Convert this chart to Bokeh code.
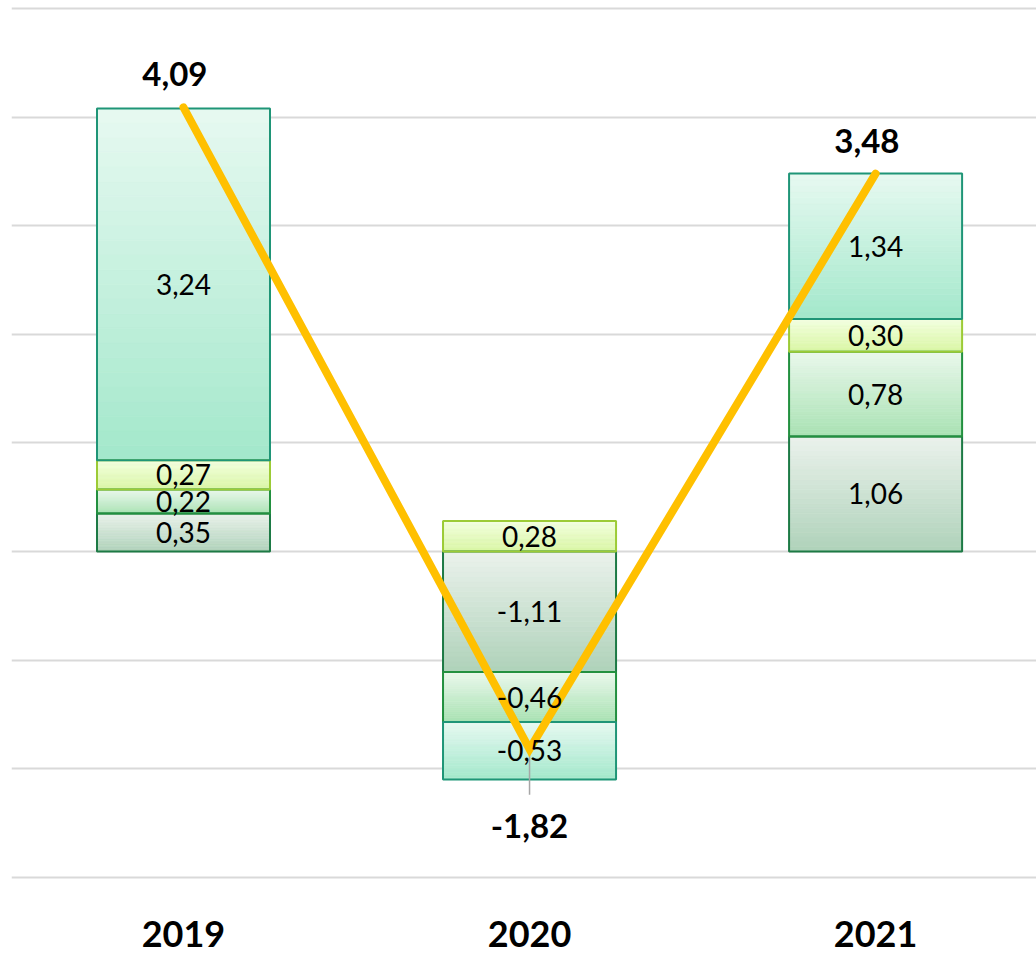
from bokeh.plotting import figure
from bokeh.models import Range1d, FixedTicker, SingleIntervalTicker, ColumnDataSource
from bokeh.core.properties import value
from bokeh.embed import file_html
from bokeh.resources import INLINE

years = ["2019", "2020", "2021"]
s1 = [0.35, -1.11, 1.06]
s2 = [0.22, -0.46, 0.78]
s3 = [0.27, 0.28, 0.30]
s4 = [3.24, -0.53, 1.34]
totals = [4.09, -1.82, 3.48]
total_labels = ["4,09", "-1,82", "3,48"]

series = [s1, s2, s3, s4]
# (top colour, bottom colour, border colour)
styles = [
    ("#ebf2ec", "#afd2ba", "#1d7a45"),
    ("#eaf8ec", "#a9e2b3", "#22903f"),
    ("#f3ffe0", "#d9f6a4", "#9ccb36"),
    ("#e7f9f1", "#a3e8cb", "#1f9577"),
]

FONT = "Lato"
BAR_W = 0.5

p = figure(width=1036, height=953, output_backend="svg", toolbar_location=None,
           x_range=Range1d(-0.497, 2.465), y_range=Range1d(-3.306, 5.074),
           min_border_left=11, min_border_right=0, min_border_top=0, min_border_bottom=43)
p.outline_line_color = None
p.background_fill_color = "white"
p.border_fill_color = "white"
p.yaxis.visible = False
p.xgrid.visible = False
p.ygrid.ticker = SingleIntervalTicker(interval=1)
p.ygrid.grid_line_color = "#d9d9d9"
p.ygrid.grid_line_width = 2

xs = list(range(len(years)))
p.xaxis.ticker = FixedTicker(ticks=xs)
p.xaxis.major_label_overrides = {i: y for i, y in enumerate(years)}
p.xaxis.axis_line_color = None
p.xaxis.major_tick_line_color = None
p.xaxis.minor_tick_line_color = None
p.xaxis.major_label_standoff = 4
p.xaxis.major_label_text_font = FONT
p.xaxis.major_label_text_font_style = "bold"
p.xaxis.major_label_text_font_size = "36px"
p.xaxis.major_label_text_color = "black"


def hex2rgb(h):
    h = h.lstrip("#")
    return tuple(int(h[i:i + 2], 16) for i in (0, 2, 4))


def mix(c1, c2, t):
    a, b = hex2rgb(c1), hex2rgb(c2)
    return "#%02x%02x%02x" % tuple(round(a[i] + (b[i] - a[i]) * t) for i in range(3))


pos_base = [0.0] * len(years)
neg_base = [0.0] * len(years)
seg = {"left": [], "right": [], "bottom": [], "top": [], "line": []}
grad = {"left": [], "right": [], "bottom": [], "top": [], "color": []}
lab = {"x": [], "y": [], "text": []}
N = 24
for vals, (ctop, cbot, cline) in zip(series, styles):
    for i, v in enumerate(vals):
        if v >= 0:
            b, t = pos_base[i], pos_base[i] + v
            pos_base[i] = t
        else:
            t, b = neg_base[i], neg_base[i] + v
            neg_base[i] = b
        for k in range(N):
            grad["left"].append(xs[i] - BAR_W / 2)
            grad["right"].append(xs[i] + BAR_W / 2)
            grad["top"].append(t - (t - b) * k / N)
            grad["bottom"].append(t - (t - b) * (k + 1) / N)
            grad["color"].append(mix(ctop, cbot, (k + 0.5) / N))
        seg["left"].append(xs[i] - BAR_W / 2)
        seg["right"].append(xs[i] + BAR_W / 2)
        seg["bottom"].append(b)
        seg["top"].append(t)
        seg["line"].append(cline)
        lab["x"].append(xs[i])
        lab["y"].append((b + t) / 2)
        lab["text"].append(("%.2f" % v).replace(".", ","))

p.quad(left="left", right="right", bottom="bottom", top="top", source=ColumnDataSource(grad),
       fill_color="color", line_color="color", line_width=0.6)
p.quad(left="left", right="right", bottom="bottom", top="top", source=ColumnDataSource(seg),
       fill_alpha=0, line_color="line", line_width=2)

# leader line for the negative total label
neg_i = [i for i, v in enumerate(totals) if v < 0]
p.segment(x0=[xs[i] for i in neg_i], y0=[totals[i] for i in neg_i],
          x1=[xs[i] for i in neg_i], y1=[neg_base[i] - 0.14 for i in neg_i],
          line_color="#a6a6a6", line_width=1.5)

p.line(xs, totals, line_color="#ffc000", line_width=8, line_join="miter", line_cap="round")

p.text(x="x", y="y", text="text", source=ColumnDataSource(lab), text_font=value(FONT),
       text_font_size="28px", text_align="center", text_baseline="middle", text_color="black")

pos = [i for i, v in enumerate(totals) if v >= 0]
p.text(x=[xs[i] - 0.025 for i in pos], y=[totals[i] for i in pos], text=[total_labels[i] for i in pos],
       text_font=value(FONT), text_font_style="bold", text_font_size="33px",
       text_align="center", text_baseline="middle", y_offset=-33, text_color="black")
p.text(x=[xs[i] for i in neg_i], y=[neg_base[i] for i in neg_i], text=[total_labels[i] for i in neg_i],
       text_font=value(FONT), text_font_style="bold", text_font_size="33px",
       text_align="center", text_baseline="middle", y_offset=46, text_color="black")

open("out.html", "w").write(file_html(p, INLINE))
